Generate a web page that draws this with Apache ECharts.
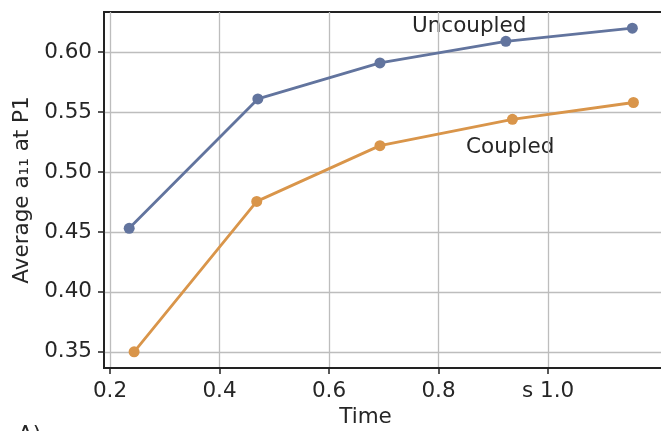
<!DOCTYPE html>
<html>
<head>
<meta charset="utf-8">
<script src="https://cdn.jsdelivr.net/npm/echarts@6/dist/echarts.min.js"></script>
<style>
  html, body { margin: 0; padding: 0; background: #fff; }
  #chart { width: 661px; height: 431px; }
</style>
</head>
<body>
<div id="chart"></div>
<script>
// values
const uncoupledTime = [0.235, 0.47, 0.693, 0.923, 1.154]
const uncoupledValue = [0.453, 0.561, 0.591, 0.609, 0.620]
const coupledTime = [0.244, 0.468, 0.693, 0.935, 1.156]
const coupledValue = [0.350, 0.4755, 0.522, 0.544, 0.558]

const xTicks = [0.2, 0.4, 0.6, 0.8, 1.0]
const xTickLabels = ['0.2', '0.4', '0.6', '0.8', 's 1.0']
const yTicks = [0.35, 0.40, 0.45, 0.50, 0.55, 0.60]
const yTickLabels = ['0.35', '0.40', '0.45', '0.50', '0.55', '0.60']

const FONT = 'DejaVu Sans'
const FS = 21.5
const TEXT = '#262626'
const BLUE = '#62749e'
const ORANGE = '#d9954a'

const zip = (xs, ys) => xs.map((x, i) => [x, ys[i]])
const pick = (ticks, labels) => v => labels[ticks.findIndex(t => Math.abs(t - v) < 1e-6)] ?? ''

const chart = echarts.init(document.getElementById('chart'))

chart.setOption({
  animation: false,
  textStyle: { fontFamily: FONT },
  grid: {
    left: 104, right: -2, top: 12, bottom: 63,
    outerBoundsMode: 'none',
    show: true, borderColor: '#222', borderWidth: 1.8,
  },
  xAxis: {
    type: 'value',
    min: 0.189,
    max: 1.210,
    name: 'Time',
    nameLocation: 'middle',
    nameGap: 38,
    nameTextStyle: { fontSize: FS, color: TEXT, fontFamily: FONT, padding: [0, 36, 0, 0] },
    axisLine: { show: true, lineStyle: { color: '#222', width: 1.8 } },
    axisTick: {
      show: true, length: 6, customValues: xTicks,
      lineStyle: { color: '#222', width: 1.5 },
    },
    axisLabel: {
      customValues: xTicks,
      fontSize: FS, color: TEXT, fontFamily: FONT, margin: 12,
      formatter: pick(xTicks, xTickLabels),
    },
    splitLine: { show: true, lineStyle: { color: '#bdbdbd', width: 1.3 } },
  },
  yAxis: {
    type: 'value',
    min: 0.3365,
    max: 0.6335,
    name: 'Average a\u2081\u2081 at P1',
    nameLocation: 'middle',
    nameRotate: 90,
    nameGap: 66,
    nameTextStyle: { fontSize: FS, color: TEXT, fontFamily: FONT },
    axisLine: { show: true, lineStyle: { color: '#222', width: 1.8 } },
    axisTick: {
      show: true, length: 6, customValues: yTicks,
      lineStyle: { color: '#222', width: 1.5 },
    },
    axisLabel: {
      customValues: yTicks,
      fontSize: FS, color: TEXT, fontFamily: FONT, margin: 12,
      formatter: pick(yTicks, yTickLabels),
    },
    splitLine: { show: true, lineStyle: { color: '#bdbdbd', width: 1.3 } },
  },
  series: [
    {
      name: 'Uncoupled',
      type: 'line',
      data: zip(uncoupledTime, uncoupledValue),
      symbol: 'circle',
      symbolSize: 11,
      lineStyle: { color: BLUE, width: 2.8 },
      itemStyle: { color: BLUE },
    },
    {
      name: 'Coupled',
      type: 'line',
      data: zip(coupledTime, coupledValue),
      symbol: 'circle',
      symbolSize: 11,
      lineStyle: { color: ORANGE, width: 2.8 },
      itemStyle: { color: ORANGE },
    },
  ],
  graphic: [
    {
      type: 'text', left: 412, top: 15,
      style: { text: 'Uncoupled', fontSize: FS, fontFamily: FONT, fill: TEXT },
    },
    {
      type: 'text', left: 466, top: 136,
      style: { text: 'Coupled', fontSize: FS, fontFamily: FONT, fill: TEXT },
    },
    {
      type: 'text', left: 18, top: 424,
      style: { text: 'A)', fontSize: FS, fontFamily: FONT, fill: TEXT },
    },
  ],
})
</script>
</body>
</html>
